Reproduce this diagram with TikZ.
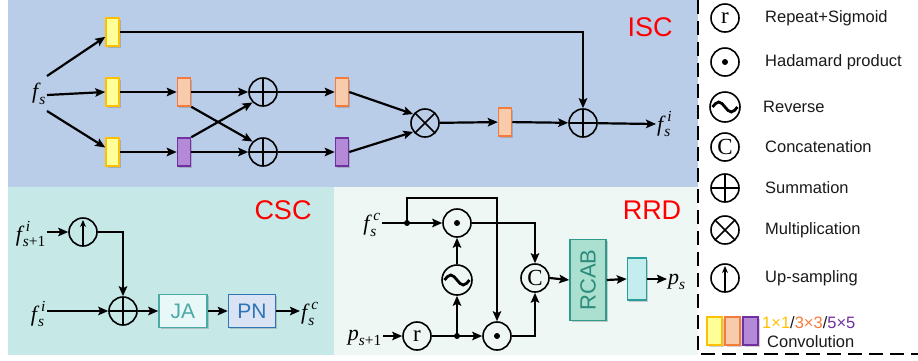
\documentclass[tikz,border=0pt]{standalone}
\usepackage{amsmath}
\usepackage[no-math]{fontspec}
\setmainfont{Liberation Sans}
\newfontfamily\serifr{Liberation Serif}
\newcommand{\mi}[1]{\text{\serifr\itshape #1}}
\newcommand{\mr}[1]{\text{\serifr #1}}
\usetikzlibrary{arrows.meta,shadows,calc}
\definecolor{iscbg}{HTML}{BACDE8}
\definecolor{cscbg}{HTML}{C6E9E8}
\definecolor{rrdbg}{HTML}{EEF7F4}
\definecolor{yelF}{HTML}{FFFF99}
\definecolor{yelD}{HTML}{FFC000}
\definecolor{oraF}{HTML}{F8CBAD}
\definecolor{oraD}{HTML}{F47B3B}
\definecolor{purF}{HTML}{B48AD8}
\definecolor{purD}{HTML}{7030A0}
\definecolor{jaF}{HTML}{E8F7F7}
\definecolor{jaD}{HTML}{4BA9A5}
\definecolor{pnF}{HTML}{DAE3F3}
\definecolor{pnD}{HTML}{2E75B6}
\definecolor{rcF}{HTML}{ABDFD0}
\definecolor{rcD}{HTML}{2E9A8A}
\definecolor{rcT}{HTML}{2B8C7C}
\definecolor{sbF}{HTML}{C4EDEE}
\definecolor{sbD}{HTML}{2A9D9D}
\definecolor{redT}{HTML}{FF0000}
\definecolor{legT}{HTML}{1A1A1A}
\tikzset{
  arr/.style={-{Stealth[length=10pt,width=8.5pt,inset=2pt]}, line width=2.2pt},
  circ/.style={circle, draw, line width=1.6pt, minimum size=28pt, inner sep=0pt},
  oplusn/.style={circ, path picture={\draw[line width=1.6pt] (path picture bounding box.north) -- (path picture bounding box.south) (path picture bounding box.west) -- (path picture bounding box.east);}},
  otimesn/.style={circ, path picture={\draw[line width=1.6pt] ([shift={(45:15pt)}]path picture bounding box.center) -- ([shift={(225:15pt)}]path picture bounding box.center) ([shift={(135:15pt)}]path picture bounding box.center) -- ([shift={(315:15pt)}]path picture bounding box.center);}},
  odotn/.style={circ, path picture={\fill (path picture bounding box.center) circle (3pt);}},
  tilden/.style={circ, minimum size=30pt, path picture={\draw[line width=2.8pt] ([xshift=-12.5pt]path picture bounding box.center) sin ++(6.25pt,5pt) cos ++(6.25pt,-5pt) sin ++(6.25pt,-5pt) cos ++(6.25pt,5pt);}},
  upn/.style={circ, path picture={\draw[line width=1.6pt, -{Stealth[length=7pt,width=6pt]}] (path picture bounding box.south) -- ([yshift=-2pt]path picture bounding box.north);}},
  letn/.style={circ, font=\serifr\fontsize{23}{23}\selectfont},
  shad/.style={drop shadow={shadow xshift=1.5pt, shadow yshift=-1.5pt, opacity=0.3, fill=black!60}},
  conv/.style={rectangle, line width=1.5pt, minimum width=13pt, minimum height=28pt, inner sep=0pt, shad},
  yb/.style={conv, fill=yelF, draw=yelD},
  ob/.style={conv, fill=oraF, draw=oraD},
  pb/.style={conv, fill=purF, draw=purD},
  mlab/.style={inner sep=1pt, font=\fontsize{22}{22}\selectfont},
  ttl/.style={text=redT, font=\fontsize{27}{27}\selectfont},
  legtxt/.style={anchor=west, inner sep=0pt, text=legT, font=\fontsize{16.5}{18}\selectfont},
  dotj/.style={circle, fill, inner sep=0pt, minimum size=6pt},
}
\begin{document}
\begin{tikzpicture}[x=1pt,y=-1pt]
\useasboundingbox (0,0) rectangle (918,360);
% panels
\fill[iscbg] (8,0) rectangle (698,187);
\fill[cscbg] (8,187) rectangle (334,355);
\fill[rrdbg] (334,187) rectangle (698,355);
\draw[line width=2.2pt, dash pattern=on 14pt off 7pt] (698,0) -- (698,354) -- (918,354);

% ===== ISC =====
\node[mlab, anchor=east] (fs) at (47,94) {$\mi{f}_{\kern1pt\mi{s}}$};
\node[yb] (y1) at (112.5,32) {};
\node[yb] (y2) at (112.5,92) {};
\node[yb] (y3) at (112.5,152) {};
\node[ob] (o2) at (184,92) {};
\node[pb] (p2) at (184,152) {};
\node[oplusn] (s1) at (263,92) {};
\node[oplusn] (s2) at (263,152) {};
\node[ob] (o3) at (342,92) {};
\node[pb] (p3) at (342,152) {};
\node[otimesn] (mul) at (425,123) {};
\node[ob] (o4) at (505,122) {};
\node[oplusn] (s3) at (583,123) {};
\node[mlab, anchor=west] (fsi) at (656,124) {$\mi{f}_{\kern1pt\mi{s}}^{\kern4pt\mi{i}}$};
\node[ttl] (isc) at (650,27) {ISC};

\draw[arr] ([yshift=18pt]fs.east) -- (y1);
\draw[arr] ([yshift=-1pt]fs.east) -- (y2.west);
\draw[arr] ([yshift=-17pt]fs.east) -- (y3);
\draw[arr] (y2) -- (o2);
\draw[arr] (o2) -- (s1);
\draw[arr] (s1) -- (o3);
\draw[arr] (y3) -- (p2);
\draw[arr] (p2) -- (s2);
\draw[arr] (s2) -- (p3);
\draw[arr] (o2.south east) -- (s2.135);
\draw[arr] (p2.north east) -- (s1.225);
\draw[arr] (o3.east) -- (mul.143);
\draw[arr] (p3.east) -- (mul.217);
\draw[arr] (mul) -- (o4);
\draw[arr] (o4) -- (s3);
\draw[arr] (s3) -- (fsi.west);
\draw[arr] (y1.east) -| (s3.north);

% ===== CSC =====
\node[mlab, anchor=east] (fsp) at (47,234) {$\mi{f}_{\kern1pt\mi{s}\mr{+1}}^{\kern4pt\mi{i}}$};
\node[upn] (up) at (83,232) {};
\node[oplusn] (sc) at (123,311) {};
\node[mlab, anchor=east] (fsi2) at (47,314) {$\mi{f}_{\kern1pt\mi{s}}^{\kern4pt\mi{i}}$};
\node[rectangle, draw=jaD, fill=jaF, line width=1.5pt, minimum width=48pt, minimum height=33pt, inner sep=0pt, text=jaD, font=\fontsize{21}{21}\selectfont, shad] (ja) at (183,311) {JA};
\node[rectangle, draw=pnD, fill=pnF, line width=1.5pt, minimum width=47pt, minimum height=33pt, inner sep=0pt, text=pnD, font=\fontsize{21}{21}\selectfont, shad] (pn) at (252,311) {PN};
\node[mlab, anchor=west] (fsc) at (300,314) {$\mi{f}_{\kern1pt\mi{s}}^{\kern4pt\mi{c}}$};
\node[ttl] (csc) at (283,210) {CSC};

\draw[arr] (fsp.east |- up.west) -- (up.west);
\draw[arr] (up.east) -| (sc.north);
\draw[arr] (fsi2.east |- sc.west) -- (sc.west);
\draw[arr] (sc.east) -- (ja.west);
\draw[arr] (ja.east) -- (pn.west);
\draw[arr] (pn.east) -- (fsc.west |- pn.east);

% ===== RRD =====
\node[mlab, anchor=east] (fsc2) at (382,225) {$\mi{f}_{\kern1pt\mi{s}}^{\kern4pt\mi{c}}$};
\node[odotn] (od1) at (457,223) {};
\node[tilden] (tl) at (457,280) {};
\node[letn] (cc) at (535,278) {C};
\node[mlab, anchor=east] (ps1) at (383,338) {$\mi{p}_{\mi{s}\mr{+1}}$};
\node[letn] (rr) at (417,336) {r};
\node[odotn] (od2) at (497,336) {};
\node[rectangle, draw=rcD, fill=rcF, line width=1.5pt, minimum width=36pt, minimum height=81pt, inner sep=0pt, shad] (rcab) at (588,280) {};
\node[rotate=90, text=rcT, font=\fontsize{22}{22}\selectfont] (rct) at (rcab.center) {RCAB};
\node[rectangle, draw=sbD, fill=sbF, line width=1.5pt, minimum width=19pt, minimum height=42pt, inner sep=0pt, shad] (sb) at (637,279) {};
\node[mlab, anchor=west] (ps) at (667,282) {$\mi{p}_{\mi{s}}$};
\node[ttl] (rrd) at (652,210) {RRD};

\coordinate (j1) at (407,223);
\coordinate (tp) at (407,198);
\coordinate (j2) at (457,336);
\draw[arr] (fsc2.east |- od1.west) -- (od1.west);
\draw[arr] (j1) -- (tp) -| (od2.north);
\draw[arr] (od1.east) -| (cc.north);
\draw[arr] (tl.north) -- (od1.south);
\draw[arr] (ps1.east |- rr.west) -- (rr.west);
\draw[arr] (rr.east) -- (od2.west);
\draw[arr] (j2) -- (tl.south);
\draw[arr] (od2.east) -| (cc.south);
\draw[arr] (cc.east) -- (rcab.west);
\draw[arr] (rcab.east) -- (sb.west);
\draw[arr] (sb.east) -- (ps.west |- sb.east);
\node[dotj] at (j1) {};
\node[dotj] at (j2) {};

% ===== Legend =====
\node[letn] (lr) at (725,18) {r};
\node[odotn] (lod) at (725,62) {};
\node[tilden] (ltl) at (725,107) {};
\node[letn] (lc) at (725,147) {C};
\node[oplusn] (lsum) at (725,188) {};
\node[otimesn] (lmul) at (725,230) {};
\node[upn] (lup) at (725,278) {};
\node[legtxt] (t1) at (765,18) {Repeat+Sigmoid};
\node[legtxt] (t2) at (765,62) {Hadamard product};
\node[legtxt] (t3) at (763,107) {Reverse};
\node[legtxt] (t4) at (765,147) {Concatenation};
\node[legtxt] (t5) at (765,188) {Summation};
\node[legtxt] (t6) at (765,230) {Multiplication};
\node[legtxt] (t7) at (765,278) {Up-sampling};
\node[yb, minimum width=15pt] (ly) at (714.5,331) {};
\node[ob, minimum width=15pt] (lo) at (732.5,331) {};
\node[pb, minimum width=15pt] (lp) at (750.5,331) {};
\node[legtxt] (t8) at (762,323) {\textcolor{yelD}{1×1}/\textcolor{oraD}{3×3}/\textcolor{purD}{5×5}};
\node[legtxt] (t9) at (767,342) {Convolution};
\end{tikzpicture}
\end{document}
